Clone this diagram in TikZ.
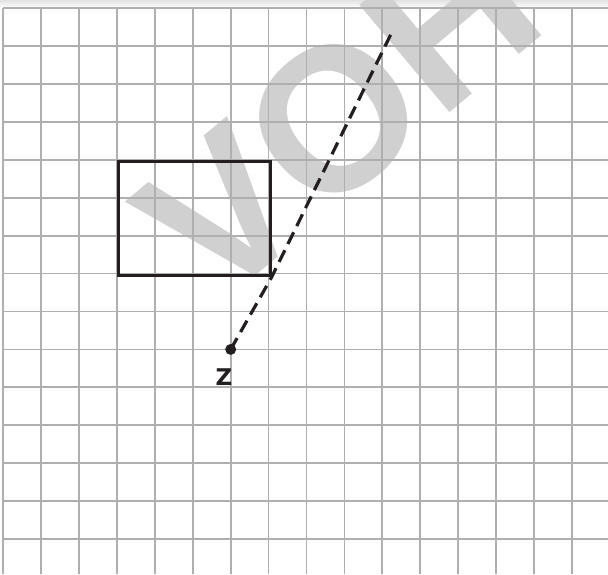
\documentclass[tikz,border=0pt]{standalone}
\usepackage{fontspec}
\setmainfont{Liberation Sans}
\newfontfamily\zfont{DejaVu Sans}
\definecolor{inkc}{RGB}{35,31,32}
\definecolor{wmc}{RGB}{208,208,208}
\definecolor{gridc}{RGB}{175,175,178}
\begin{document}
\begin{tikzpicture}[x=1pt,y=-1pt,
  gridline/.style={draw=gridc,line width=1.7pt},
  ink/.style={draw=inkc,line width=3.2pt}]
\useasboundingbox (0,0) rectangle (608,574);
\fill[white] (0,0) rectangle (608,574);
\shade[top color=gray!22, bottom color=white] (0,0) rectangle (608,8);
\node[rotate=40, anchor=base west, inner sep=0, text=wmc,
  font=\fontsize{204}{204}\selectfont\bfseries] (wm) at (214,311) {VOHC};
\foreach \i in {0,...,15} \draw[gridline] ({3.3+37.9*\i},8) -- ({3.3+37.9*\i},574);
\foreach \j in {0,...,14} \draw[gridline] (3,{8.3+37.9*\j}) -- (608,{8.3+37.9*\j});
\node[ink, draw, minimum width=151.6pt, minimum height=113.7pt, inner sep=0,
  anchor=north west] (rect) at (117,159.9) {};
\node[circle, fill=inkc, inner sep=0, minimum size=11pt] (z) at (230.7,349.4) {};
\node[font=\zfont\fontsize{23}{23}\selectfont\bfseries, text=inkc, inner sep=0] (zl) at (224,377) {Z};
\coordinate (top) at (392,32);
\draw[ink, dash pattern=on 13pt off 7pt] (z.center) -- (rect.south east) -- (top);
\end{tikzpicture}
\end{document}
